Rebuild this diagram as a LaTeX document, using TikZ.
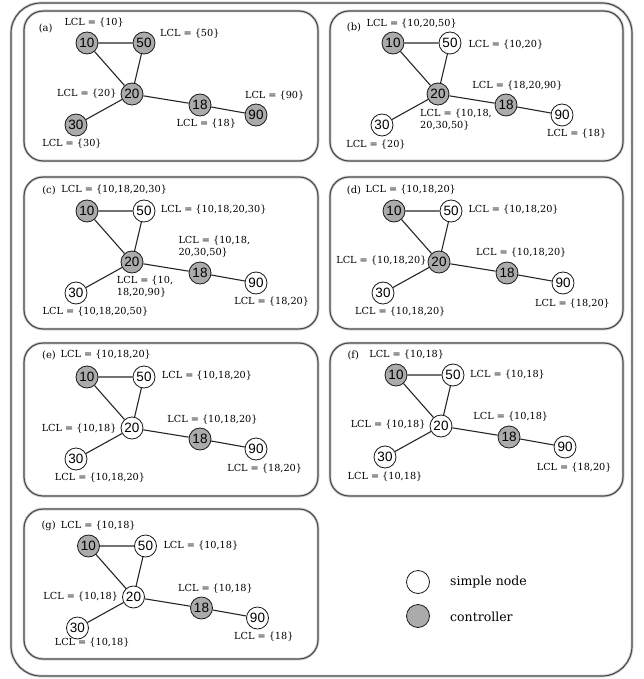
\documentclass[tikz,border=0pt]{standalone}
\usepackage{fontspec}
\setmainfont{DejaVu Serif}
\newfontfamily\numfont{Liberation Sans}

\tikzset{
  peer/.style={circle, draw=black!90, line width=0.8pt, minimum size=22pt,
    inner sep=0pt, fill=white, font=\numfont\fontsize{13.5}{13.5}\selectfont},
  ctrl/.style={peer, fill=black!33},
  link/.style={draw=black!85, line width=1.1pt},
  lcl/.style={inner sep=0pt, align=left, font=\fontsize{9.7}{12}\selectfont},
  tag/.style={lcl, font=\fontsize{10}{12}\selectfont},
  keytext/.style={inner sep=0pt, anchor=west, font=\fontsize{12.5}{14}\selectfont},
  panelframe/.style={rounded corners=19pt, draw=black!70, line width=1.2pt,
    preaction={draw=black!15, line width=3pt}},
  outerframe/.style={rounded corners=30pt, draw=black!70, line width=1.2pt,
    preaction={draw=black!15, line width=3pt}},
}

% the six-node network; #1 = name prefix, #2..#7 = styles of 10,50,20,18,90,30
\newcommand\lclnet[7]{%
  \node[#2] (#1n10) at (63,33) {10};
  \node[#3] (#1n50) at (120,33) {50};
  \node[#4] (#1n20) at (108,84) {20};
  \node[#5] (#1n18) at (176,95) {18};
  \node[#6] (#1n90) at (232,105) {90};
  \node[#7] (#1n30) at (52,115) {30};
  \draw[link] (#1n10) -- (#1n50) (#1n10) -- (#1n20) (#1n50) -- (#1n20)
              (#1n20) -- (#1n30) (#1n20) -- (#1n18) (#1n18) -- (#1n90);
}

\begin{document}
\begin{tikzpicture}[x=1pt, y=-1pt]
\useasboundingbox (0,0) rectangle (644,679);

\draw[outerframe] (11,3) rectangle (632,676);

% panel frames
\draw[panelframe] (24,11) rectangle (318,161);
\draw[panelframe] (330,11) rectangle (623,161);
\draw[panelframe] (24,177) rectangle (318,329);
\draw[panelframe] (330,177) rectangle (623,329);
\draw[panelframe] (24,343) rectangle (318,496);
\draw[panelframe] (330,343) rectangle (623,496);
\draw[panelframe] (24,509) rectangle (318,659);

% (a)
\begin{scope}[shift={(24,10)}]
  \lclnet{a}{ctrl}{ctrl}{ctrl}{ctrl}{ctrl}{ctrl}
\end{scope}
\node[tag] (atag) at (45.7,28.3) {(a)};
\node[lcl] (aL10) at (94.2,22.3) {LCL = \{10\}};
\node[lcl, anchor=west] (aL50) at (160,33.3) {LCL = \{50\}};
\node[lcl, anchor=east] (aL20) at (116.7,93.3) {LCL = \{20\}};
\node[lcl] (aL18) at (206.3,123.3) {LCL = \{18\}};
\node[lcl] (aL90) at (274.7,95.7) {LCL = \{90\}};
\node[lcl] (aL30) at (72,143.3) {LCL = \{30\}};

% (b)
\begin{scope}[shift={(330,10)}]
  \lclnet{b}{ctrl}{peer}{ctrl}{ctrl}{peer}{peer}
\end{scope}
\node[tag] (btag) at (354,27.7) {(b)};
\node[lcl] (bL10) at (411.7,23.3) {LCL = \{10,20,50\}};
\node[lcl, anchor=west] (bL50) at (468.3,44.3) {LCL = \{10,20\}};
\node[lcl] (bL18) at (517.5,86) {LCL = \{18,20,90\}};
\node[lcl, anchor=west] (bL20) at (420,119.7) {LCL = \{10,18,\\20,30,50\}};
\node[lcl] (bL90) at (576.7,133.3) {LCL = \{18\}};
\node[lcl] (bL30) at (376,145) {LCL = \{20\}};

% (c)
\begin{scope}[shift={(24,178)}]
  \lclnet{c}{ctrl}{peer}{ctrl}{ctrl}{peer}{peer}
\end{scope}
\node[tag] (ctag) at (49,190) {(c)};
\node[lcl] (cL10) at (114.2,190) {LCL = \{10,18,20,30\}};
\node[lcl, anchor=west] (cL50) at (160.7,210) {LCL = \{10,18,20,30\}};
\node[lcl, anchor=west] (cL18) at (178.3,246.2) {LCL = \{10,18,\\20,30,50\}};
\node[lcl, anchor=west] (cL20) at (116.7,286.2) {LCL = \{10,\\18,20,90\}};
\node[lcl] (cL90) at (271.7,301.7) {LCL = \{18,20\}};
\node[lcl] (cL30) at (95.5,311.7) {LCL = \{10,18,20,50\}};

% (d)
\begin{scope}[shift={(331,178)}]
  \lclnet{d}{ctrl}{peer}{ctrl}{ctrl}{peer}{peer}
\end{scope}
\node[tag] (dtag) at (354,190) {(d)};
\node[lcl] (dL10) at (410.8,190) {LCL = \{10,18,20\}};
\node[lcl, anchor=west] (dL50) at (468.3,210) {LCL = \{10,18,20\}};
\node[lcl, anchor=east] (dL20) at (426.7,261) {LCL = \{10,18,20\}};
\node[lcl] (dL18) at (521.3,252.3) {LCL = \{10,18,20\}};
\node[lcl] (dL90) at (572.5,303.3) {LCL = \{18,20\}};
\node[lcl] (dL30) at (400.3,311.7) {LCL = \{10,18,20\}};

% (e)
\begin{scope}[shift={(24,344)}]
  \lclnet{e}{ctrl}{peer}{peer}{ctrl}{peer}{peer}
\end{scope}
\node[tag] (etag) at (49,355) {(e)};
\node[lcl] (eL10) at (105.8,355) {LCL = \{10,18,20\}};
\node[lcl, anchor=west] (eL50) at (161.7,376) {LCL = \{10,18,20\}};
\node[lcl, anchor=east] (eL20) at (116.7,428.3) {LCL = \{10,18\}};
\node[lcl] (eL18) at (212.5,419.3) {LCL = \{10,18,20\}};
\node[lcl] (eL90) at (264.7,468.3) {LCL = \{18,20\}};
\node[lcl] (eL30) at (100,477.3) {LCL = \{10,18,20\}};

% (f)
\begin{scope}[shift={(333,342)}]
  \lclnet{f}{ctrl}{peer}{peer}{ctrl}{peer}{peer}
\end{scope}
\node[tag] (ftag) at (353.3,355) {(f)};
\node[lcl] (fL10) at (406.7,355) {LCL = \{10,18\}};
\node[lcl, anchor=west] (fL50) at (470,375) {LCL = \{10,18\}};
\node[lcl, anchor=east] (fL20) at (425.7,425) {LCL = \{10,18\}};
\node[lcl] (fL18) at (510.8,416.7) {LCL = \{10,18\}};
\node[lcl] (fL90) at (574.2,467.3) {LCL = \{18,20\}};
\node[lcl] (fL30) at (385,476.7) {LCL = \{10,18\}};

% (g)
\begin{scope}[shift={(25.5,513)}]
  \lclnet{g}{ctrl}{peer}{peer}{ctrl}{peer}{peer}
\end{scope}
\node[tag] (gtag) at (48.7,525.7) {(g)};
\node[lcl] (gL10) at (98.3,525.7) {LCL = \{10,18\}};
\node[lcl, anchor=west] (gL50) at (163.3,545.7) {LCL = \{10,18\}};
\node[lcl, anchor=east] (gL20) at (118.3,596.7) {LCL = \{10,18\}};
\node[lcl] (gL18) at (215.5,588.3) {LCL = \{10,18\}};
\node[lcl] (gL90) at (263.8,636.7) {LCL = \{18\}};
\node[lcl] (gL30) at (92.2,642.3) {LCL = \{10,18\}};

% legend
\node[peer, minimum size=23pt] (keysimple) at (418,582) {};
\node[ctrl, minimum size=23pt] (keyctrl) at (418,616) {};
\node[keytext] (keysimpletext) at (450,582) {simple node};
\node[keytext] (keyctrltext) at (450,616.5) {controller};
\end{tikzpicture}
\end{document}
